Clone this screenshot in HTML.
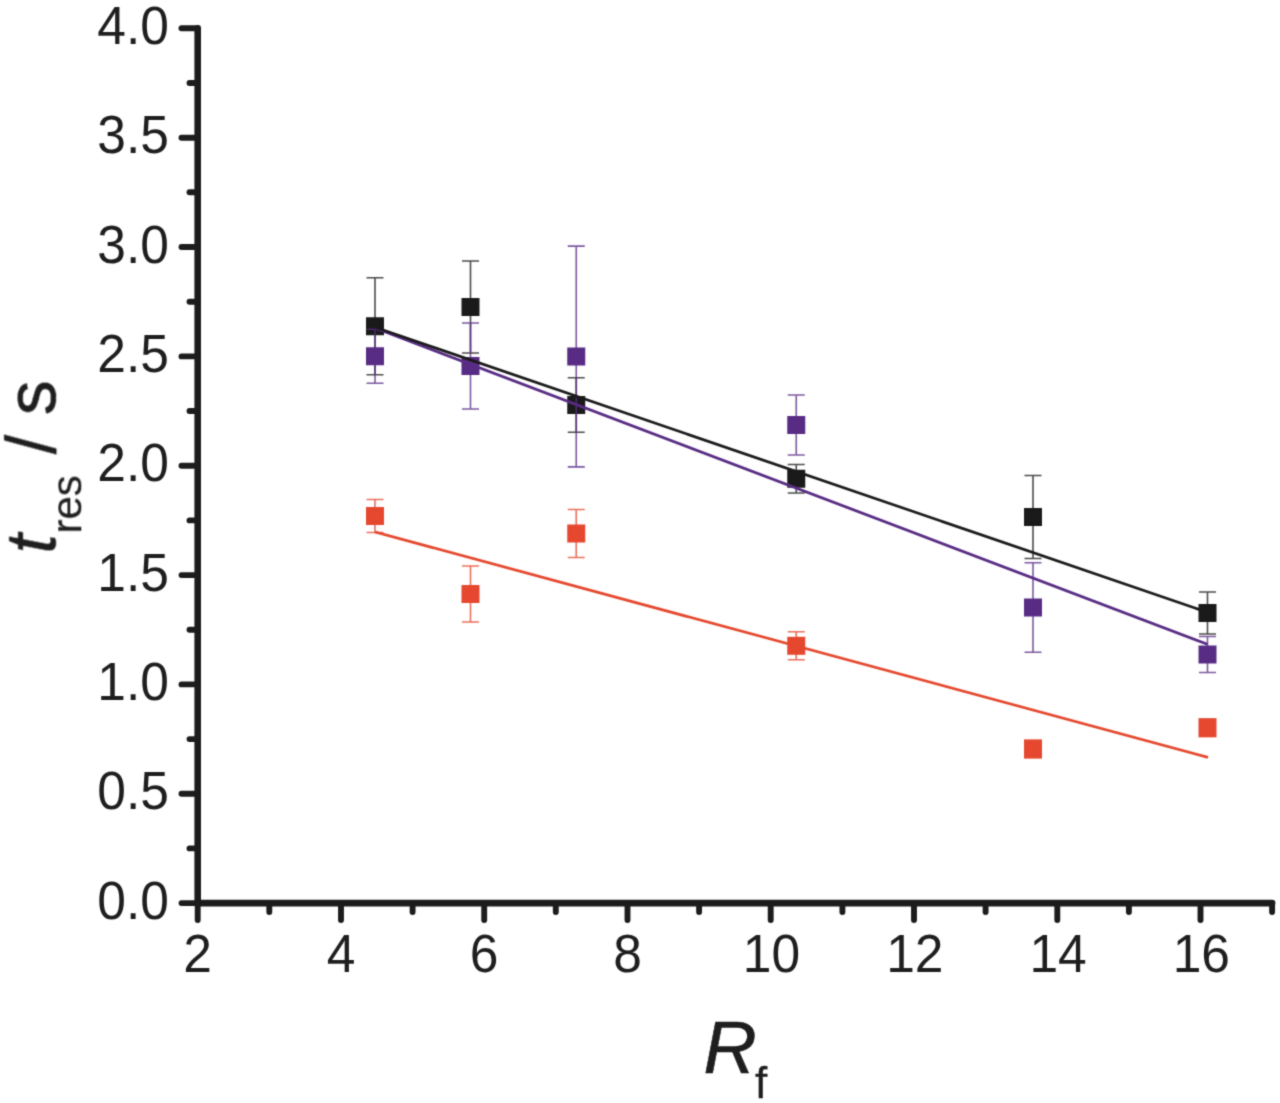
<!DOCTYPE html>
<html lang="en"><head><meta charset="utf-8"><title>t_res vs R_f</title>
<style>html,body{margin:0;padding:0;background:#fff}body{width:1280px;height:1103px;overflow:hidden}svg{display:block}text{font-family:"Liberation Sans",sans-serif;fill:#1e1e1e}</style></head><body>
<svg width="1280" height="1103" viewBox="0 0 1280 1103">
<defs><filter id="soft" x="0" y="0" width="1280" height="1103" filterUnits="userSpaceOnUse" color-interpolation-filters="sRGB"><feConvolveMatrix order="3" kernelMatrix="0.062 0.249 0.062 0.249 1 0.249 0.062 0.249 0.062" edgeMode="duplicate" preserveAlpha="false"/></filter></defs>
<rect width="1280" height="1103" fill="#fff"/>
<g filter="url(#soft)">
<g stroke="#1c1c1c" stroke-width="6.6" stroke-linecap="round" fill="none">
<path d="M197.7 28.3 V903.1"/>
<path d="M197.7 903.1 H1272.1"/>
</g>
<g stroke="#1c1c1c" stroke-width="5.9" stroke-linecap="round" fill="none">
<path d="M181.5 903.1 H197.7"/>
<path d="M181.5 793.8 H197.7"/>
<path d="M181.5 684.4 H197.7"/>
<path d="M181.5 575.1 H197.7"/>
<path d="M181.5 465.7 H197.7"/>
<path d="M181.5 356.4 H197.7"/>
<path d="M181.5 247.0 H197.7"/>
<path d="M181.5 137.7 H197.7"/>
<path d="M181.5 28.3 H197.7"/>
<path d="M189.5 848.4 H197.7"/>
<path d="M189.5 739.1 H197.7"/>
<path d="M189.5 629.7 H197.7"/>
<path d="M189.5 520.4 H197.7"/>
<path d="M189.5 411.0 H197.7"/>
<path d="M189.5 301.7 H197.7"/>
<path d="M189.5 192.3 H197.7"/>
<path d="M189.5 83.0 H197.7"/>
<path d="M197.7 903.1 V920.0"/>
<path d="M269.3 903.1 V912.0"/>
<path d="M341.0 903.1 V920.0"/>
<path d="M412.6 903.1 V912.0"/>
<path d="M484.2 903.1 V920.0"/>
<path d="M555.8 903.1 V912.0"/>
<path d="M627.5 903.1 V920.0"/>
<path d="M699.1 903.1 V912.0"/>
<path d="M770.7 903.1 V920.0"/>
<path d="M842.4 903.1 V912.0"/>
<path d="M914.0 903.1 V920.0"/>
<path d="M985.6 903.1 V912.0"/>
<path d="M1057.3 903.1 V920.0"/>
<path d="M1128.9 903.1 V912.0"/>
<path d="M1200.5 903.1 V920.0"/>
<path d="M1272.1 903.1 V912.0"/>
</g>
<g font-size="52.6" text-anchor="end">
<text transform="translate(169 918.7) scale(0.98 1.025)">0.0</text>
<text transform="translate(169 809.4) scale(0.98 1.025)">0.5</text>
<text transform="translate(169 700.0) scale(0.98 1.025)">1.0</text>
<text transform="translate(169 590.7) scale(0.98 1.025)">1.5</text>
<text transform="translate(169 481.3) scale(0.98 1.025)">2.0</text>
<text transform="translate(169 372.0) scale(0.98 1.025)">2.5</text>
<text transform="translate(169 262.6) scale(0.98 1.025)">3.0</text>
<text transform="translate(169 153.3) scale(0.98 1.025)">3.5</text>
<text transform="translate(169 43.9) scale(0.98 1.025)">4.0</text>
</g>
<g font-size="52.6" text-anchor="middle">
<text transform="translate(197.7 971.6) scale(0.98 1.025)">2</text>
<text transform="translate(341.0 971.6) scale(0.98 1.025)">4</text>
<text transform="translate(484.2 971.6) scale(0.98 1.025)">6</text>
<text transform="translate(627.5 971.6) scale(0.98 1.025)">8</text>
<text transform="translate(771.5 971.6) scale(0.98 1.025)">10</text>
<text transform="translate(914.8 971.6) scale(0.98 1.025)">12</text>
<text transform="translate(1058.1 971.6) scale(0.98 1.025)">14</text>
<text transform="translate(1201.3 971.6) scale(0.98 1.025)">16</text>
</g>
<text x="703.5" y="1072.6" font-size="73.5" stroke="#1e1e1e" stroke-width="0.6"><tspan font-style="italic">R</tspan><tspan font-size="44" dy="25" dx="-1.5" stroke-width="0.3">f</tspan></text>
<text transform="translate(55.3 553.5) rotate(-90)" font-size="70" stroke="#1e1e1e" stroke-width="0.5"><tspan font-style="italic">t</tspan><tspan font-size="42" dy="25.7" dx="0.5" stroke-width="0.2">res</tspan><tspan dy="-25.7" dx="1.5"> / s</tspan></text>
<g stroke="#1a1a1a" fill="none" stroke-width="1.6" opacity="0.78">
<path d="M375.00 277.75 V374.75 M366.50 277.75 H383.50 M366.50 374.75 H383.50"/>
<path d="M470.50 261.00 V353.00 M462.00 261.00 H479.00 M462.00 353.00 H479.00"/>
<path d="M576.25 377.70 V432.30 M567.75 377.70 H584.75 M567.75 432.30 H584.75"/>
<path d="M796.25 464.55 V492.95 M787.75 464.55 H804.75 M787.75 492.95 H804.75"/>
<path d="M1033.00 475.50 V558.50 M1024.50 475.50 H1041.50 M1024.50 558.50 H1041.50"/>
<path d="M1207.50 592.00 V634.00 M1199.00 592.00 H1216.00 M1199.00 634.00 H1216.00"/>
</g>
<g fill="#1a1a1a">
<rect x="366.00" y="317.25" width="18" height="18.0"/>
<rect x="461.50" y="298.00" width="18" height="18.0"/>
<rect x="567.25" y="396.00" width="18" height="18.0"/>
<rect x="787.25" y="469.75" width="18" height="18.0"/>
<rect x="1024.00" y="508.00" width="18" height="18.0"/>
<rect x="1198.50" y="604.00" width="18" height="18.0"/>
</g>
<g stroke="#e5482e" fill="none" stroke-width="1.6" opacity="0.78">
<path d="M375.00 499.50 V532.50 M366.50 499.50 H383.50 M366.50 532.50 H383.50"/>
<path d="M470.50 566.00 V622.00 M462.00 566.00 H479.00 M462.00 622.00 H479.00"/>
<path d="M576.25 509.50 V557.50 M567.75 509.50 H584.75 M567.75 557.50 H584.75"/>
<path d="M796.25 631.80 V659.80 M787.75 631.80 H804.75 M787.75 659.80 H804.75"/>
</g>
<g fill="#e5482e">
<rect x="366.00" y="507.00" width="18" height="18.0"/>
<rect x="461.50" y="585.00" width="18" height="18.0"/>
<rect x="567.25" y="524.50" width="18" height="18.0"/>
<rect x="787.25" y="636.80" width="18" height="18.0"/>
<rect x="1024.00" y="739.40" width="18" height="19.2"/>
<rect x="1198.50" y="718.15" width="18" height="19.2"/>
</g>
<g stroke="#582c84" fill="none" stroke-width="1.6" opacity="0.78">
<path d="M375.00 329.25 V383.25 M366.50 329.25 H383.50 M366.50 383.25 H383.50"/>
<path d="M470.50 323.00 V409.00 M462.00 323.00 H479.00 M462.00 409.00 H479.00"/>
<path d="M576.25 246.10 V466.90 M567.75 246.10 H584.75 M567.75 466.90 H584.75"/>
<path d="M796.25 395.00 V455.00 M787.75 395.00 H804.75 M787.75 455.00 H804.75"/>
<path d="M1033.00 562.80 V652.20 M1024.50 562.80 H1041.50 M1024.50 652.20 H1041.50"/>
<path d="M1207.50 636.50 V672.50 M1199.00 636.50 H1216.00 M1199.00 672.50 H1216.00"/>
</g>
<g fill="#582c84">
<rect x="366.00" y="347.25" width="18" height="18.0"/>
<rect x="461.50" y="357.00" width="18" height="18.0"/>
<rect x="567.25" y="347.50" width="18" height="18.0"/>
<rect x="787.25" y="416.00" width="18" height="18.0"/>
<rect x="1024.00" y="598.50" width="18" height="18.0"/>
<rect x="1198.50" y="645.50" width="18" height="18.0"/>
</g>
<path d="M375.0 532.0 L1208.0 757.4" stroke="#e5482e" stroke-width="2.8" fill="none"/>
<path d="M375.0 328.0 L1207.5 644.3" stroke="#582c84" stroke-width="2.8" fill="none"/>
<path d="M375.0 327.2 L1207.5 612.3" stroke="#1a1a1a" stroke-width="2.8" fill="none"/>
</g></svg></body></html>
